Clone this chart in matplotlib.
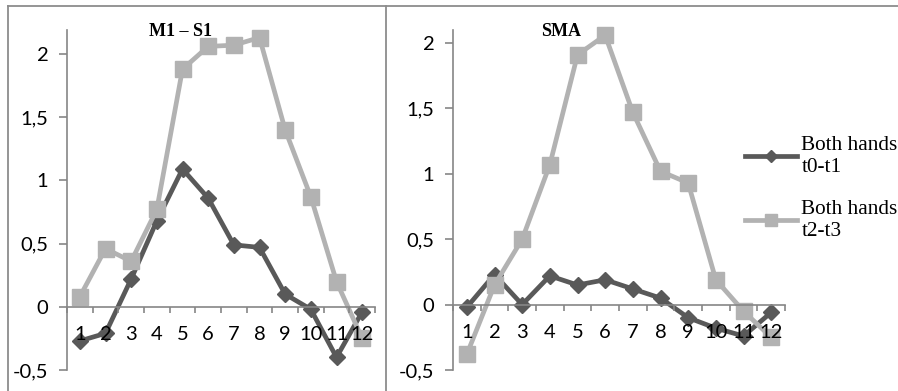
import matplotlib.pyplot as plt
from matplotlib.lines import Line2D
from matplotlib.ticker import FuncFormatter, MultipleLocator
import numpy as np

# measurement points 1..12
points = list(range(1, 13))

m1s1_t0t1 = [-0.27, -0.21, 0.22, 0.68, 1.09, 0.86, 0.49, 0.47, 0.10, -0.02, -0.40, -0.04]
m1s1_t2t3 = [0.08, 0.46, 0.36, 0.77, 1.88, 2.06, 2.07, 2.13, 1.40, 0.87, 0.20, -0.25]

sma_t0t1 = [-0.02, 0.23, 0.0, 0.22, 0.15, 0.19, 0.12, 0.05, -0.10, -0.18, -0.24, -0.06]
sma_t2t3 = [-0.38, 0.15, 0.50, 1.07, 1.91, 2.06, 1.47, 1.02, 0.93, 0.19, -0.05, -0.25]

series_labels = ["Both hands\nt0-t1", "Both hands\nt2-t3"]
titles = ["M1 \u2013 S1", "SMA"]

dark = "#595959"
light = "#b2b2b2"
axis_col = "#868686"

W, H = 898, 391
fig = plt.figure(figsize=(W / 100, H / 100), dpi=100)


def px_axes(x0, x1, y_top, y_bot):
    return fig.add_axes([x0 / W, 1 - y_bot / H, (x1 - x0) / W, (y_bot - y_top) / H])


comma = FuncFormatter(lambda v, p: ("%g" % v).replace(".", ","))


def panel(ax, a, b, title, title_x, ytop):
    ax.plot(points, a, color=dark, lw=3.4, marker="D", ms=8, zorder=2, clip_on=False)
    ax.plot(points, b, color=light, lw=3.4, marker="s", ms=11, zorder=2, clip_on=False)
    ax.set_xlim(0.5, 12.5)
    ax.set_ylim(-0.5, ytop)
    ax.set_axisbelow(False)
    for s in ["top", "right"]:
        ax.spines[s].set_visible(False)
    ax.spines["bottom"].set_position(("data", 0))
    for s in ["left", "bottom"]:
        ax.spines[s].set_color(axis_col)
        ax.spines[s].set_linewidth(1.2)
    ax.yaxis.set_major_locator(MultipleLocator(0.5))
    ax.yaxis.set_major_formatter(comma)
    ax.tick_params(axis="y", direction="out", length=5.5, width=1.2, color=axis_col,
                   pad=8, labelsize=14.5)
    ax.set_xticks(points)
    ax.set_xticks(np.arange(0.5, 13, 1), minor=True)
    ax.tick_params(axis="x", which="major", length=0, pad=14, labelsize=14.5)
    ax.tick_params(axis="x", which="minor", direction="out", length=4, width=1.2,
                   color=axis_col)
    for lab in ax.get_xticklabels() + ax.get_yticklabels():
        lab.set_fontfamily("Lato")
    ax.patch.set_alpha(0)
    ax.text(title_x, 0.995, title, transform=ax.transAxes, ha="center", va="center",
            fontsize=13, fontweight="bold", family="Liberation Serif")


ax1 = px_axes(67, 375, 30, 370)
panel(ax1, m1s1_t0t1, m1s1_t2t3, titles[0], 0.367, 2.19)

ax2 = px_axes(453, 785, 30, 370)
panel(ax2, sma_t0t1, sma_t2t3, titles[1], 0.325, 2.10)

handles = [Line2D([], [], color=dark, lw=3.4, marker="D", ms=6),
           Line2D([], [], color=light, lw=3.4, marker="s", ms=9)]
fig.legend(handles, series_labels, loc="upper left",
           bbox_to_anchor=(745 / W, 1 - 136 / H), frameon=False,
           prop={"family": "Liberation Serif", "size": 15.3},
           handlelength=2.45, handletextpad=0.2, labelspacing=1.1,
           borderpad=0, borderaxespad=0)

# panel frames
for xs, ys in [([8, W], [6, 6]), ([8, 8], [6, H]), ([385.5, 385.5], [6, H])]:
    fig.add_artist(Line2D([x / W for x in xs], [1 - y / H for y in ys],
                          color="#8c8c8c", lw=1.3))

fig.savefig("out.png", dpi=100)
